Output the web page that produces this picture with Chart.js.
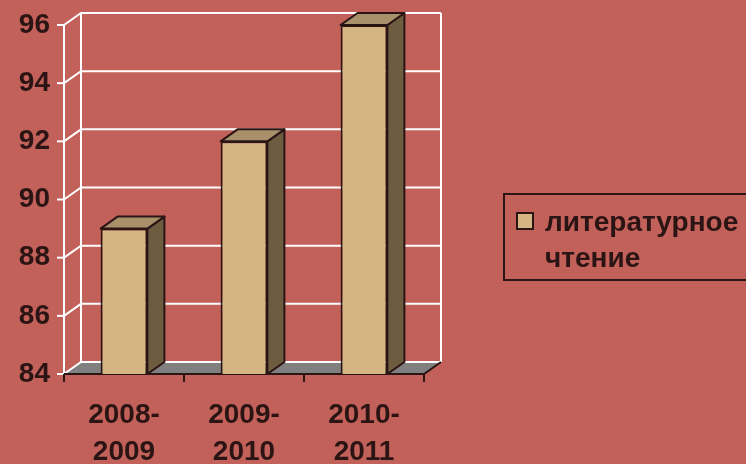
<!DOCTYPE html>
<html>
<head>
<meta charset="utf-8">
<script src="https://cdn.jsdelivr.net/npm/chart.js@4/dist/chart.umd.min.js"></script>
<style>
  html, body { margin: 0; padding: 0; background: #C2605A; overflow: hidden; }
  #wrap { position: relative; width: 746px; height: 464px; }
  #legend {
    position: absolute; left: 503px; top: 193px; width: 270px; height: 84px;
    border: 2px solid #2B1414; box-sizing: content-box;
    font: bold 28px "Liberation Sans", Arial, sans-serif; color: #2B1414;
  }
  #legend .sw { position: absolute; left: 11px; top: 17px; width: 14px; height: 14px;
    background: #D5B683; border: 2px solid #2B1414; }
  #legend .tx { position: absolute; left: 40px; top: 9px; line-height: 36px; }
</style>
</head>
<body>
<div id="wrap">
  <canvas id="c" width="746" height="464"></canvas>
  <div id="legend"><div class="sw"></div><div class="tx" id="legtext"></div></div>
</div>
<script>
const categories = [["2008-", "2009"], ["2009-", "2010"], ["2010-", "2011"]];
const seriesName = ["литературное", "чтение"];
const values = [89, 92, 96];
const yTicks = [84, 86, 88, 90, 92, 94, 96];

document.getElementById('legtext').innerHTML = seriesName.join('<br>');

const DX = 17, DY = -12;
const INK = '#2B1414';

const walls = {
  id: 'walls',
  beforeDatasetsDraw(chart) {
    const ctx = chart.ctx, y = chart.scales.y;
    const L = chart.chartArea.left, R = chart.chartArea.right;
    const T = y.getPixelForValue(yTicks[yTicks.length - 1]);
    const B = y.getPixelForValue(yTicks[0]);
    ctx.save();
    ctx.fillStyle = '#808080';
    ctx.beginPath();
    ctx.moveTo(L, B); ctx.lineTo(R, B); ctx.lineTo(R + DX, B + DY); ctx.lineTo(L + DX, B + DY);
    ctx.closePath(); ctx.fill();
    ctx.strokeStyle = '#FFFFFF';
    ctx.lineWidth = 2;
    yTicks.forEach(v => {
      const p = y.getPixelForValue(v);
      ctx.beginPath();
      ctx.moveTo(L, p); ctx.lineTo(L + DX, p + DY); ctx.lineTo(R + DX, p + DY);
      ctx.stroke();
      ctx.beginPath(); ctx.moveTo(L - 7, p); ctx.lineTo(L, p); ctx.stroke();
    });
    ctx.beginPath();
    ctx.moveTo(L + DX, T + DY); ctx.lineTo(L + DX, B + DY);
    ctx.moveTo(R + DX, T + DY); ctx.lineTo(R + DX, B + DY);
    ctx.moveTo(L, T); ctx.lineTo(L, B);
    ctx.stroke();
    ctx.strokeStyle = INK;
    ctx.beginPath();
    ctx.moveTo(L, B); ctx.lineTo(R, B); ctx.lineTo(R + DX, B + DY);
    ctx.stroke();
    const n = categories.length;
    const w = (R - L) / n;
    for (let i = 0; i <= n; i++) {
      const px = Math.round(L + i * w);
      ctx.beginPath(); ctx.moveTo(px, B); ctx.lineTo(px, B + 8); ctx.stroke();
    }
    ctx.restore();
  },
  afterDatasetsDraw(chart) {
    const ctx = chart.ctx, y = chart.scales.y;
    const B = y.getPixelForValue(yTicks[0]);
    const meta = chart.getDatasetMeta(0);
    ctx.save();
    ctx.strokeStyle = INK;
    ctx.lineWidth = 2;
    ctx.lineJoin = 'round';
    meta.data.forEach(bar => {
      const p = bar.getProps(['x', 'y', 'width'], true);
      const l = p.x - p.width / 2, r = p.x + p.width / 2;
      ctx.fillStyle = '#6E5C40';
      ctx.beginPath();
      ctx.moveTo(r, p.y); ctx.lineTo(r + DX, p.y + DY); ctx.lineTo(r + DX, B + DY); ctx.lineTo(r, B);
      ctx.closePath(); ctx.fill(); ctx.stroke();
      ctx.fillStyle = '#A8906A';
      ctx.beginPath();
      ctx.moveTo(l, p.y); ctx.lineTo(l + DX, p.y + DY); ctx.lineTo(r + DX, p.y + DY); ctx.lineTo(r, p.y);
      ctx.closePath(); ctx.fill(); ctx.stroke();
    });
    ctx.restore();
  }
};

new Chart(document.getElementById('c'), {
  type: 'bar',
  data: {
    labels: categories,
    datasets: [{
      label: seriesName.join(' '),
      data: values,
      backgroundColor: '#D5B683',
      borderColor: INK,
      borderWidth: 2,
      categoryPercentage: 1,
      barPercentage: 0.39
    }]
  },
  options: {
    responsive: false,
    animation: false,
    layout: { padding: { left: 0, top: 25, right: 322, bottom: 0 } },
    plugins: { legend: { display: false }, tooltip: { enabled: false } },
    scales: {
      y: {
        min: 84, max: 96,
        afterFit(s) { s.width = 64; s.paddingTop = 0; s.paddingBottom = 0; },
        border: { display: false },
        grid: { display: false },
        ticks: {
          stepSize: 2, padding: 6, color: INK,
          font: { family: '"Liberation Sans", Arial, sans-serif', size: 28, weight: 'bold' }
        }
      },
      x: {
        afterFit(s) { s.height = 90; s.paddingLeft = 0; s.paddingRight = 0; },
        border: { display: false },
        grid: { display: false },
        ticks: {
          padding: 15, color: INK, maxRotation: 0,
          font: { family: '"Liberation Sans", Arial, sans-serif', size: 28, weight: 'bold', lineHeight: 1.32 }
        }
      }
    }
  },
  plugins: [walls]
});
</script>
</body>
</html>
